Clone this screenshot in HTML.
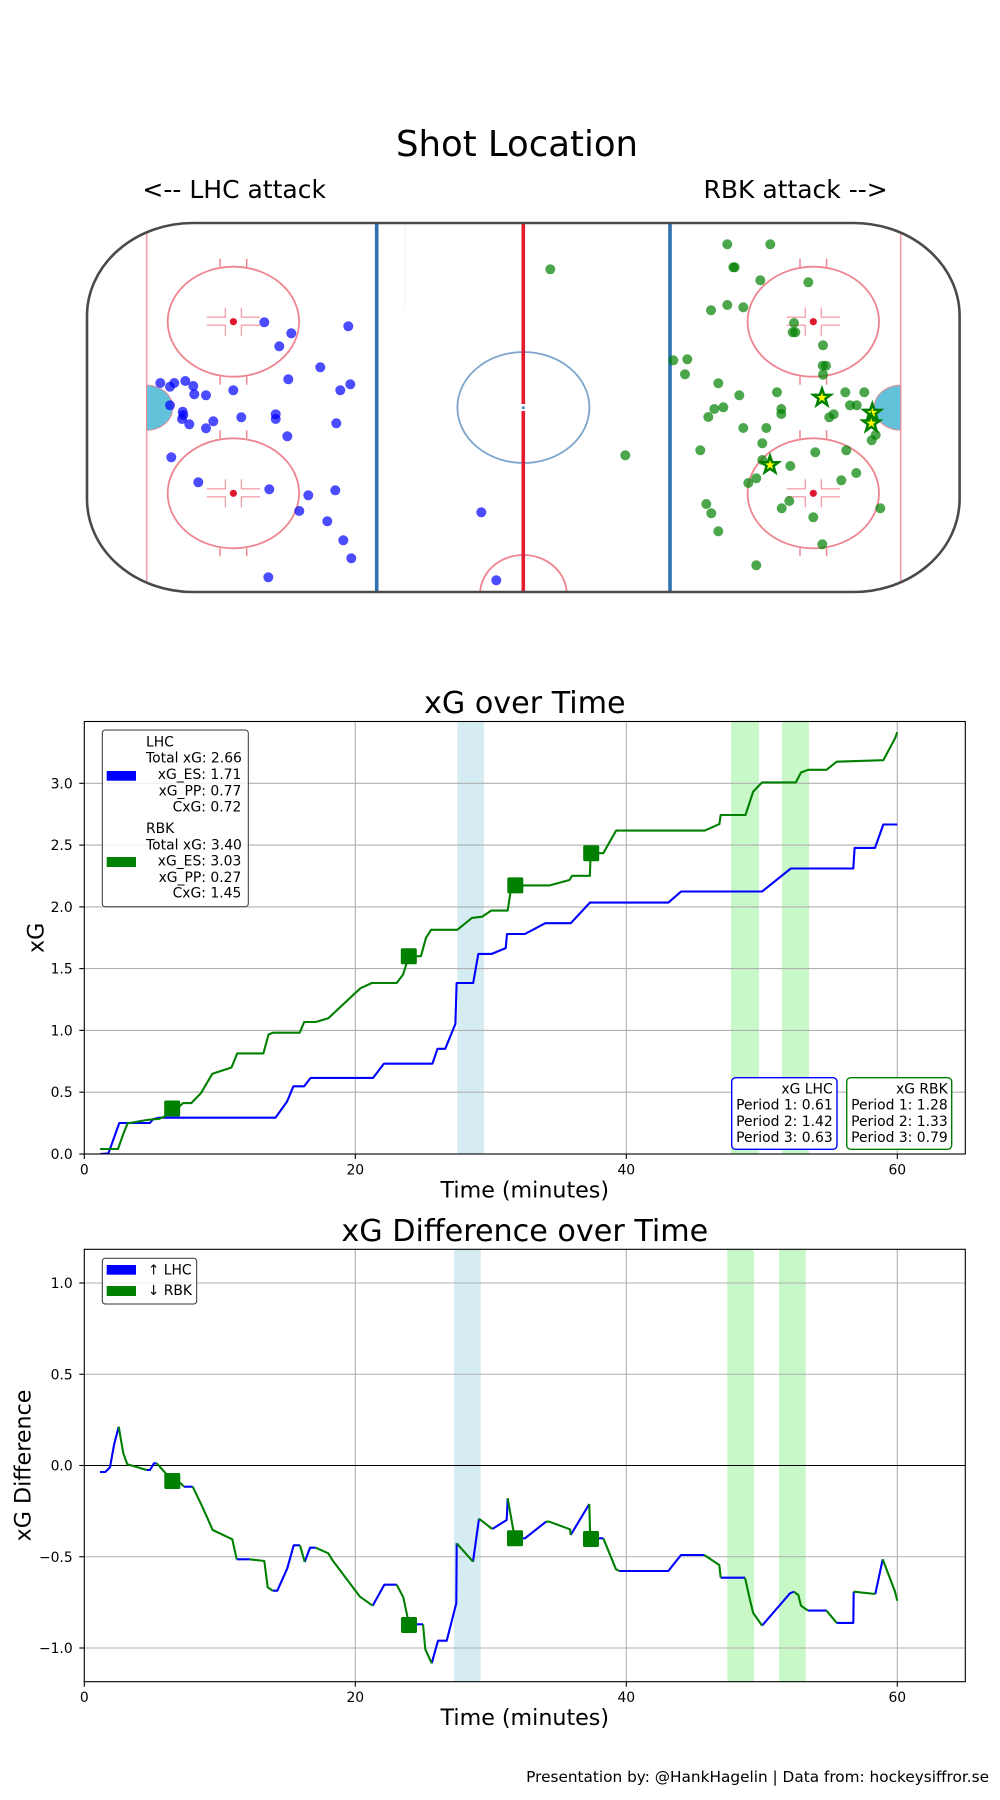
<!DOCTYPE html>
<html>
<head>
<meta charset="utf-8">
<style>
html,body{margin:0;padding:0;background:#fff;}
svg{display:block;}
text{font-family:"DejaVu Sans","Liberation Sans",sans-serif;fill:#000;}
</style>
</head>
<body>
<svg width="1000" height="1800" viewBox="0 0 1000 1800" xmlns="http://www.w3.org/2000/svg">
<defs>
  <clipPath id="rinkclip"><rect x="87" y="223" width="872.6" height="369" rx="106" ry="93"/></clipPath>
  <clipPath id="ax1"><rect x="84.3" y="721.5" width="881" height="432.5"/></clipPath>
  <clipPath id="ax2"><rect x="84.3" y="1249.3" width="881" height="432.4"/></clipPath>
  <polygon id="star" points="0,-1 0.235,-0.324 0.951,-0.309 0.380,0.124 0.588,0.809 0,0.4 -0.588,0.809 -0.380,0.124 -0.951,-0.309 -0.235,-0.324"/>
  <g id="fo">
    <ellipse cx="0" cy="0" rx="65.7" ry="55" fill="none" stroke="#ee8590" stroke-width="1.8"/>
    <line x1="-13.3" y1="-63" x2="-13.3" y2="-55" stroke="#ee8590" stroke-width="1.5"/>
    <line x1="13.3" y1="-63" x2="13.3" y2="-55" stroke="#ee8590" stroke-width="1.5"/>
    <line x1="-13.3" y1="55" x2="-13.3" y2="63" stroke="#ee8590" stroke-width="1.5"/>
    <line x1="13.3" y1="55" x2="13.3" y2="63" stroke="#ee8590" stroke-width="1.5"/>
    <g stroke="#f3a3ad" stroke-width="1.4">
      <line x1="-26.6" y1="-4.5" x2="-7.5" y2="-4.5"/>
      <line x1="-26.6" y1="3.5" x2="-7.5" y2="3.5"/>
      <line x1="7.5" y1="-4.5" x2="26.6" y2="-4.5"/>
      <line x1="7.5" y1="3.5" x2="26.6" y2="3.5"/>
      <line x1="-8" y1="-14" x2="-8" y2="-4.5"/>
      <line x1="-8" y1="3.5" x2="-8" y2="14"/>
      <line x1="8" y1="-14" x2="8" y2="-4.5"/>
      <line x1="8" y1="3.5" x2="8" y2="14"/>
    </g>
    <circle cx="0" cy="0" r="3.6" fill="#e0182d"/>
  </g>
</defs>

<!-- ===================== SHOT LOCATION ===================== -->
<text x="517" y="156" font-size="35.5" text-anchor="middle">Shot Location</text>
<text x="234.2" y="198" font-size="25" text-anchor="middle">&lt;-- LHC attack</text>
<text x="795.6" y="198" font-size="25" text-anchor="middle">RBK attack --&gt;</text>

<rect x="87" y="223" width="872.6" height="369" rx="106" ry="93" fill="#fff"/>
<g clip-path="url(#rinkclip)">
  <line x1="146.7" y1="223" x2="146.7" y2="592" stroke="#f2a2ac" stroke-width="1.6"/>
  <line x1="900.7" y1="223" x2="900.7" y2="592" stroke="#f2a2ac" stroke-width="1.6"/>
  <path d="M146.7,385.2 A26,22.5 0 0 1 146.7,430.2 Z" fill="#62c2da" stroke="#e88a96" stroke-width="1"/>
  <path d="M900.7,385.2 A26.5,22.5 0 0 0 900.7,430.2 Z" fill="#62c2da" stroke="#e88a96" stroke-width="1"/>
  <line x1="376.7" y1="223" x2="376.7" y2="592" stroke="#2f71b0" stroke-width="3.6"/>
  <line x1="670" y1="223" x2="670" y2="592" stroke="#2f71b0" stroke-width="3.6"/>
  <line x1="405" y1="223" x2="405" y2="308" stroke="#f1f1f1" stroke-width="1"/>
  <ellipse cx="523.4" cy="407.5" rx="66" ry="55.5" fill="none" stroke="#7ea6cd" stroke-width="1.8"/>
  <ellipse cx="523.4" cy="594" rx="43.3" ry="39" fill="none" stroke="#ee8590" stroke-width="1.8"/>
  <line x1="523.3" y1="223" x2="523.3" y2="404" stroke="#e31b2f" stroke-width="3.6"/>
  <line x1="523.3" y1="411" x2="523.3" y2="592" stroke="#e31b2f" stroke-width="3.6"/>
  <circle cx="523.3" cy="407.7" r="1.6" fill="#5b8fc4"/>
  <use href="#fo" x="233.4" y="321.7"/>
  <use href="#fo" x="233.4" y="493.3"/>
  <use href="#fo" x="813.3" y="321.7"/>
  <use href="#fo" x="813.3" y="493.3"/>
</g>
<rect x="87" y="223" width="872.6" height="369" rx="106" ry="93" fill="none" stroke="#4a4a4a" stroke-width="2.6"/>

<g fill="#0000ff" fill-opacity="0.7">
<circle cx="264.3" cy="322.3" r="5"/><circle cx="291.3" cy="333.3" r="5"/><circle cx="279.3" cy="346.3" r="5"/>
<circle cx="348.3" cy="326.3" r="5"/><circle cx="320.3" cy="367.3" r="5"/><circle cx="288.3" cy="379.3" r="5"/>
<circle cx="350.3" cy="384.3" r="5"/><circle cx="340.3" cy="390.3" r="5"/><circle cx="233.3" cy="390.3" r="5"/>
<circle cx="160.3" cy="383" r="5"/><circle cx="170" cy="386.7" r="5"/><circle cx="174.3" cy="383" r="5"/>
<circle cx="185.3" cy="381" r="5"/><circle cx="193.3" cy="386" r="5"/><circle cx="194.3" cy="394.3" r="5"/>
<circle cx="206" cy="395.3" r="5"/><circle cx="170" cy="405.3" r="5"/><circle cx="182.7" cy="411.7" r="5"/>
<circle cx="183.3" cy="415" r="5"/><circle cx="182" cy="419" r="5"/><circle cx="189.3" cy="424.3" r="5"/>
<circle cx="206" cy="428.3" r="5"/><circle cx="213.3" cy="421.3" r="5"/><circle cx="241.3" cy="417.3" r="5"/>
<circle cx="275.7" cy="414.3" r="5"/><circle cx="275.7" cy="419" r="5"/><circle cx="287.3" cy="436.3" r="5"/>
<circle cx="336.3" cy="423.3" r="5"/><circle cx="171.3" cy="457.3" r="5"/><circle cx="198.3" cy="482.3" r="5"/>
<circle cx="269.3" cy="489.3" r="5"/><circle cx="308.3" cy="495.3" r="5"/><circle cx="335.3" cy="490.3" r="5"/>
<circle cx="299.3" cy="511" r="5"/><circle cx="327.3" cy="521.3" r="5"/><circle cx="343.3" cy="540.3" r="5"/>
<circle cx="351.3" cy="558.3" r="5"/><circle cx="268.3" cy="577.3" r="5"/><circle cx="481.3" cy="512.3" r="5"/>
<circle cx="496.3" cy="580.3" r="5"/>
</g>
<g fill="#008000" fill-opacity="0.7">
<circle cx="550.3" cy="269.3" r="5"/><circle cx="727.3" cy="244.3" r="5"/><circle cx="770.3" cy="244.3" r="5"/>
<circle cx="733.3" cy="267.3" r="5"/><circle cx="734.7" cy="267.3" r="5"/><circle cx="760.3" cy="280.3" r="5"/>
<circle cx="808.3" cy="282.3" r="5"/><circle cx="711" cy="310.3" r="5"/><circle cx="727.3" cy="305" r="5"/>
<circle cx="743.3" cy="307.3" r="5"/><circle cx="794" cy="323" r="5"/><circle cx="792.7" cy="332.3" r="5"/>
<circle cx="795.3" cy="332.3" r="5"/><circle cx="823" cy="345.3" r="5"/><circle cx="673.3" cy="360.3" r="5"/>
<circle cx="687.3" cy="359.3" r="5"/><circle cx="685" cy="374.3" r="5"/><circle cx="822.7" cy="365.7" r="5"/>
<circle cx="826" cy="365.7" r="5"/><circle cx="823" cy="374.7" r="5"/><circle cx="718.3" cy="383.3" r="5"/>
<circle cx="739.3" cy="395.3" r="5"/><circle cx="777" cy="392.3" r="5"/><circle cx="845.3" cy="392.3" r="5"/>
<circle cx="864.3" cy="392.3" r="5"/><circle cx="714.3" cy="409" r="5"/><circle cx="723.3" cy="407.3" r="5"/>
<circle cx="708.3" cy="417" r="5"/><circle cx="781.3" cy="409" r="5"/><circle cx="781.3" cy="414" r="5"/>
<circle cx="833.7" cy="414.3" r="5"/><circle cx="829.3" cy="417.3" r="5"/><circle cx="850" cy="405.3" r="5"/>
<circle cx="856.7" cy="405.3" r="5"/><circle cx="743.3" cy="428" r="5"/><circle cx="766.3" cy="428" r="5"/>
<circle cx="762.3" cy="443.3" r="5"/><circle cx="875.7" cy="435" r="5"/><circle cx="871.7" cy="440.3" r="5"/>
<circle cx="700.3" cy="450.3" r="5"/><circle cx="815.3" cy="452.3" r="5"/><circle cx="846.3" cy="450.3" r="5"/>
<circle cx="762.3" cy="460" r="5"/><circle cx="790.3" cy="466" r="5"/><circle cx="756.3" cy="478.3" r="5"/>
<circle cx="748.3" cy="483" r="5"/><circle cx="841.3" cy="480.3" r="5"/><circle cx="856.3" cy="473" r="5"/>
<circle cx="789.3" cy="501" r="5"/><circle cx="781.7" cy="508.3" r="5"/><circle cx="813.3" cy="517.3" r="5"/>
<circle cx="880.3" cy="508.3" r="5"/><circle cx="706.3" cy="504" r="5"/><circle cx="711.3" cy="513.3" r="5"/>
<circle cx="718.3" cy="531.3" r="5"/><circle cx="822.3" cy="544.3" r="5"/><circle cx="756.3" cy="565.3" r="5"/>
<circle cx="625.3" cy="455.3" r="5"/>
</g>
<g fill="#ffff00" stroke="#008000" stroke-width="0.28" stroke-linejoin="miter">
<use href="#star" transform="translate(822,397.7) scale(9)"/>
<use href="#star" transform="translate(872.3,412.7) scale(9)"/>
<use href="#star" transform="translate(871.3,423.3) scale(9)"/>
<use href="#star" transform="translate(770,465) scale(9)"/>
</g>

<!-- ===================== xG OVER TIME ===================== -->
<text x="524.8" y="713" font-size="30.2" text-anchor="middle">xG over Time</text>
<g clip-path="url(#ax1)">
  <rect x="457.3" y="721.5" width="26.7" height="432.5" fill="#d6ecf3"/>
  <rect x="731" y="721.5" width="28" height="432.5" fill="#c8f7c8"/>
  <rect x="782" y="721.5" width="27" height="432.5" fill="#c8f7c8"/>
  <g stroke="#b0b0b0" stroke-width="1.1">
    <line x1="355.3" y1="721.5" x2="355.3" y2="1154"/>
    <line x1="626.3" y1="721.5" x2="626.3" y2="1154"/>
    <line x1="897.3" y1="721.5" x2="897.3" y2="1154"/>
    <line x1="84.3" y1="1092.2" x2="965.3" y2="1092.2"/>
    <line x1="84.3" y1="1030.4" x2="965.3" y2="1030.4"/>
    <line x1="84.3" y1="968.6" x2="965.3" y2="968.6"/>
    <line x1="84.3" y1="906.9" x2="965.3" y2="906.9"/>
    <line x1="84.3" y1="845.1" x2="965.3" y2="845.1"/>
    <line x1="84.3" y1="783.3" x2="965.3" y2="783.3"/>
  </g>
  <polyline fill="none" stroke="#0000ff" stroke-width="2.1" stroke-linejoin="round" points="100.1,1154 108.4,1153.4 119.3,1123 149.9,1123 153.1,1119.2 159.4,1117.7 275.5,1117.7 287,1101.6 293.4,1086.3 304.2,1086.3 310.6,1077.9 373.1,1077.9 383.9,1063.7 432.4,1063.7 437.5,1048.8 445.2,1048.8 455.4,1023.9 456.6,983 473.2,983 478.3,953.9 491.7,953.9 505.7,948.1 507,934 524.9,934 545.3,923.2 570.8,923.2 589.9,902.6 668.4,902.6 681.1,891.5 762.1,891.5 790.8,868.5 853.3,868.5 854.6,847.9 875,847.9 883.3,824.5 897.3,824.5"/>
  <polyline fill="none" stroke="#008000" stroke-width="2.1" stroke-linejoin="round" points="100.1,1149 118,1149 123.1,1134.5 127.6,1123.4 146.7,1120 159.4,1118.8 172.2,1113.1 183,1103.1 191.3,1103.1 200.9,1093.2 212.4,1073.7 231.5,1067.5 237.2,1053.4 263.4,1053.4 268.5,1034.6 273,1032.7 299.7,1032.7 304.2,1022 315.7,1022 328.4,1018.2 360.3,988.3 371.8,983 396.7,983 403.1,974.5 408.8,956.2 420.9,956.2 426,937.8 431.1,929.8 457.3,929.8 471.9,917.9 482.1,916.7 491.1,910.6 507.7,910.6 511.5,885.4 549.7,885.4 569.5,880 572.1,875.8 589.9,875.8 590.6,853.2 603.3,853.2 616.1,830.6 704.7,830.6 719.4,824.1 720.7,815 745.5,815 753.2,791.6 762.1,782.4 795.9,782.4 801,772.5 808,769.8 826.5,769.8 836.7,761.7 883.3,760.2 894.8,738.8 897.3,732.3"/>
  <g fill="#008000">
    <rect x="164.2" y="1100.5" width="16" height="16" rx="1.5"/>
    <rect x="400.8" y="948.2" width="16" height="16" rx="1.5"/>
    <rect x="507.3" y="877.4" width="16" height="16" rx="1.5"/>
    <rect x="583.2" y="845.2" width="16" height="16" rx="1.5"/>
  </g>
</g>
<rect x="84.3" y="721.5" width="881" height="432.5" fill="none" stroke="#000" stroke-width="1.1"/>
<g stroke="#000" stroke-width="1.1">
  <line x1="84.3" y1="1154" x2="84.3" y2="1159"/><line x1="355.3" y1="1154" x2="355.3" y2="1159"/>
  <line x1="626.3" y1="1154" x2="626.3" y2="1159"/><line x1="897.3" y1="1154" x2="897.3" y2="1159"/>
  <line x1="79.3" y1="1154" x2="84.3" y2="1154"/><line x1="79.3" y1="1092.2" x2="84.3" y2="1092.2"/>
  <line x1="79.3" y1="1030.4" x2="84.3" y2="1030.4"/><line x1="79.3" y1="968.6" x2="84.3" y2="968.6"/>
  <line x1="79.3" y1="906.9" x2="84.3" y2="906.9"/><line x1="79.3" y1="845.1" x2="84.3" y2="845.1"/>
  <line x1="79.3" y1="783.3" x2="84.3" y2="783.3"/>
</g>
<g font-size="13.9" text-anchor="end">
  <text x="72.7" y="1159">0.0</text><text x="72.7" y="1097.2">0.5</text><text x="72.7" y="1035.4">1.0</text>
  <text x="72.7" y="973.6">1.5</text><text x="72.7" y="911.9">2.0</text><text x="72.7" y="850.1">2.5</text>
  <text x="72.7" y="788.3">3.0</text>
</g>
<g font-size="13.9" text-anchor="middle">
  <text x="84.3" y="1174.3">0</text><text x="355.3" y="1174.3">20</text>
  <text x="626.3" y="1174.3">40</text><text x="897.3" y="1174.3">60</text>
</g>
<text x="524.8" y="1197.5" font-size="22.2" text-anchor="middle">Time (minutes)</text>
<text transform="translate(43.5,937.8) rotate(-90)" font-size="22.2" text-anchor="middle">xG</text>

<rect x="102.3" y="730" width="146" height="176.7" rx="3" fill="#fff" fill-opacity="0.8" stroke="#333" stroke-width="1"/>
<rect x="106.7" y="771" width="29.3" height="9.7" fill="#0000ff"/>
<rect x="106.7" y="857" width="29.3" height="10" fill="#008000"/>
<g font-size="13.9">
  <text x="146" y="746.3">LHC</text>
  <text x="146" y="762.7">Total xG: 2.66</text>
  <text x="241.3" y="779" text-anchor="end">xG_ES: 1.71</text>
  <text x="241.3" y="795.3" text-anchor="end">xG_PP: 0.77</text>
  <text x="241.3" y="811.5" text-anchor="end">CxG: 0.72</text>
  <text x="146" y="833">RBK</text>
  <text x="146" y="849.3">Total xG: 3.40</text>
  <text x="241.3" y="865.6" text-anchor="end">xG_ES: 3.03</text>
  <text x="241.3" y="881.8" text-anchor="end">xG_PP: 0.27</text>
  <text x="241.3" y="897.5" text-anchor="end">CxG: 1.45</text>
</g>

<rect x="731.7" y="1077.7" width="105.3" height="71.6" rx="4" fill="#fff" stroke="#0000ff" stroke-width="1.4"/>
<rect x="846.7" y="1077.7" width="105" height="71.6" rx="4" fill="#fff" stroke="#008000" stroke-width="1.4"/>
<g font-size="13.9" text-anchor="end">
  <text x="832.7" y="1093.3">xG LHC</text>
  <text x="832.7" y="1109.6">Period 1: 0.61</text>
  <text x="832.7" y="1125.8">Period 2: 1.42</text>
  <text x="832.7" y="1142">Period 3: 0.63</text>
  <text x="947.7" y="1093.3">xG RBK</text>
  <text x="947.7" y="1109.6">Period 1: 1.28</text>
  <text x="947.7" y="1125.8">Period 2: 1.33</text>
  <text x="947.7" y="1142">Period 3: 0.79</text>
</g>

<!-- ===================== xG DIFFERENCE ===================== -->
<text x="524.8" y="1241" font-size="30.2" text-anchor="middle">xG Difference over Time</text>
<g clip-path="url(#ax2)">
  <rect x="454" y="1249.3" width="26.7" height="432.4" fill="#d6ecf3"/>
  <rect x="727.3" y="1249.3" width="26.7" height="432.4" fill="#c8f7c8"/>
  <rect x="779" y="1249.3" width="26.7" height="432.4" fill="#c8f7c8"/>
  <g stroke="#b0b0b0" stroke-width="1.1">
    <line x1="355.3" y1="1249.3" x2="355.3" y2="1681.7"/>
    <line x1="626.3" y1="1249.3" x2="626.3" y2="1681.7"/>
    <line x1="897.3" y1="1249.3" x2="897.3" y2="1681.7"/>
    <line x1="84.3" y1="1283" x2="965.3" y2="1283"/>
    <line x1="84.3" y1="1374.25" x2="965.3" y2="1374.25"/>
    <line x1="84.3" y1="1556.75" x2="965.3" y2="1556.75"/>
    <line x1="84.3" y1="1648" x2="965.3" y2="1648"/>
  </g>
  <line x1="84.3" y1="1465.5" x2="965.3" y2="1465.5" stroke="#000" stroke-width="1.1"/>
  <g fill="none" stroke-width="2.1" stroke-linejoin="round">
    <g stroke="#0000ff">
      <polyline points="100,1472 105.3,1472 110,1467.3 114,1445 118.7,1426.7"/>
      <polyline points="146.7,1470 150,1470 154,1463.3 156.7,1463.3"/>
      <polyline points="184,1486.7 192.7,1486.7"/>
      <polyline points="236.7,1559.3 249.7,1559.3"/>
      <polyline points="272.7,1590.7 277.3,1590.7 287.3,1568.3 293.7,1545.3 300,1545.3"/>
      <polyline points="304.7,1562 310,1547.7 315.7,1547.7"/>
      <polyline points="372.7,1605.7 384.3,1584.7 396.7,1584.7"/>
      <polyline points="409,1624.3 423,1624.3"/>
      <polyline points="431.7,1663.3 438,1640.7 446.7,1640.7 456.3,1603.3 456.7,1543.3"/>
      <polyline points="473,1561.7 479,1518.7"/>
      <polyline points="492.3,1529 506.7,1520 507.7,1498.3"/>
      <polyline points="515,1538.3 525,1538.3 546,1521.7"/>
      <polyline points="570.7,1535 589.3,1504"/>
      <polyline points="598,1538.3 603.3,1538.3"/>
      <polyline points="619.3,1571 668.3,1571 681,1555 704.3,1555"/>
      <polyline points="720.7,1577.7 745,1577.7"/>
      <polyline points="762.1,1625.6 790,1593.3 794,1591.7"/>
      <polyline points="808,1610.6 826.5,1610.6"/>
      <polyline points="836.7,1622.9 853.3,1622.9 853.7,1591.7"/>
      <polyline points="875.3,1594 882.7,1559.3"/>
    </g>
    <g stroke="#008000">
      <polyline points="118.7,1426.7 123.3,1453.3 127.3,1464.3 146.7,1470"/>
      <polyline points="156.7,1463.3 165.7,1473.3 172.3,1481 180.7,1483.3 184,1486.7"/>
      <polyline points="192.7,1486.7 202.3,1506.7 212.7,1530 232.3,1539.3 236.7,1559.3"/>
      <polyline points="249.7,1559.3 264.3,1561 267.7,1587.3 272.7,1590.7"/>
      <polyline points="300,1545.3 304.7,1562"/>
      <polyline points="315.7,1547.7 328.3,1553.3 332.3,1560 360,1596.7 372.7,1605.7"/>
      <polyline points="396.7,1584.7 403.3,1597.3 409,1624.3"/>
      <polyline points="423,1624.3 425.3,1649.3 431.7,1663.3"/>
      <polyline points="456.7,1543.3 473,1561.7"/>
      <polyline points="479,1518.7 492.3,1529"/>
      <polyline points="507.7,1498.3 513.3,1530 515,1538.3"/>
      <polyline points="546,1521.7 549.3,1521.7 570,1529.3 570.7,1535"/>
      <polyline points="589.3,1504 590,1530 591,1539 598,1538.3"/>
      <polyline points="603.3,1538.3 616,1569.3 619.3,1571"/>
      <polyline points="704.3,1555 719.3,1565 720.7,1577.7"/>
      <polyline points="745,1577.7 750,1600 753.2,1613 762.1,1625.6"/>
      <polyline points="794,1591.7 798.3,1595 801,1605.7 808,1610.6"/>
      <polyline points="826.5,1610.6 836.7,1622.9"/>
      <polyline points="853.7,1591.7 875.3,1594"/>
      <polyline points="882.7,1559.3 894.8,1591 897.3,1600.7"/>
    </g>
  </g>
  <g fill="#008000">
    <rect x="164.3" y="1473" width="16" height="16" rx="1.5"/>
    <rect x="401" y="1617" width="16" height="16" rx="1.5"/>
    <rect x="507" y="1530.3" width="16" height="16" rx="1.5"/>
    <rect x="583" y="1531" width="16" height="16" rx="1.5"/>
  </g>
</g>
<rect x="84.3" y="1249.3" width="881" height="432.4" fill="none" stroke="#000" stroke-width="1.1"/>
<g stroke="#000" stroke-width="1.1">
  <line x1="84.3" y1="1681.7" x2="84.3" y2="1686.7"/><line x1="355.3" y1="1681.7" x2="355.3" y2="1686.7"/>
  <line x1="626.3" y1="1681.7" x2="626.3" y2="1686.7"/><line x1="897.3" y1="1681.7" x2="897.3" y2="1686.7"/>
  <line x1="79.3" y1="1283" x2="84.3" y2="1283"/><line x1="79.3" y1="1374.25" x2="84.3" y2="1374.25"/>
  <line x1="79.3" y1="1465.5" x2="84.3" y2="1465.5"/><line x1="79.3" y1="1556.75" x2="84.3" y2="1556.75"/>
  <line x1="79.3" y1="1648" x2="84.3" y2="1648"/>
</g>
<g font-size="13.9" text-anchor="end">
  <text x="72.7" y="1288">1.0</text><text x="72.7" y="1379.25">0.5</text><text x="72.7" y="1470.5">0.0</text>
  <text x="72.7" y="1561.75">−0.5</text><text x="72.7" y="1653">−1.0</text>
</g>
<g font-size="13.9" text-anchor="middle">
  <text x="84.3" y="1702">0</text><text x="355.3" y="1702">20</text>
  <text x="626.3" y="1702">40</text><text x="897.3" y="1702">60</text>
</g>
<text x="524.8" y="1725" font-size="22.2" text-anchor="middle">Time (minutes)</text>
<text transform="translate(30.5,1465.5) rotate(-90)" font-size="22.2" text-anchor="middle">xG Difference</text>

<rect x="102.3" y="1258.3" width="94.4" height="45.7" rx="3" fill="#fff" fill-opacity="0.8" stroke="#333" stroke-width="1"/>
<rect x="106.7" y="1265" width="29.3" height="9.7" fill="#0000ff"/>
<rect x="106.7" y="1286" width="29.3" height="10" fill="#008000"/>
<g font-size="13.9">
  <text x="147.7" y="1274.3">↑ LHC</text>
  <text x="147.7" y="1295">↓ RBK</text>
</g>

<text x="989" y="1782" font-size="15.3" text-anchor="end">Presentation by: @HankHagelin | Data from: hockeysiffror.se</text>
</svg>
</body>
</html>
